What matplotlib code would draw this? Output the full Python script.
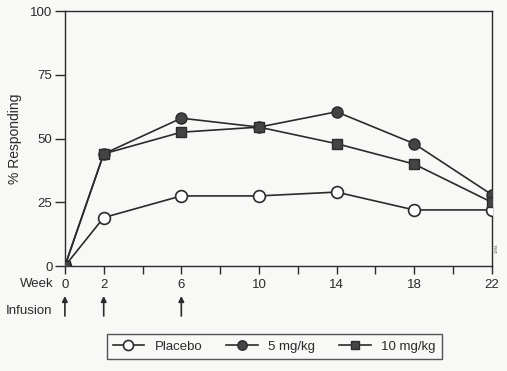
import matplotlib
matplotlib.use("Agg")
import matplotlib.pyplot as plt
from matplotlib.transforms import blended_transform_factory

plt.rcParams['font.family'] = ['Liberation Sans', 'DejaVu Sans']

weeks = [0, 2, 6, 10, 14, 18, 22]
placebo = [0, 19, 27.5, 27.5, 29, 22, 22]
mg5 = [0, 44, 58, 54.5, 60.5, 48, 28]
mg10 = [0, 44, 52.5, 54.5, 48, 40, 25]
tick_weeks = [0, 2, 4, 6, 8, 10, 12, 14, 16, 18, 20, 22]
tick_labels = ['0', '2', '', '6', '', '10', '', '14', '', '18', '', '22']
y_ticks = [0, 25, 50, 75, 100]
infusion_weeks = [0, 2, 6]

ink = '#2b2b2b'
bg = '#f8f8f6'

fig = plt.figure(figsize=(5.07, 3.71), dpi=100, facecolor=bg)
ax = fig.add_axes([0.128, 0.283, 0.842, 0.687], facecolor=bg)

ax.plot(weeks, placebo, color=ink, lw=1.2, marker='o', ms=8.5,
        mfc='white', mec=ink, mew=1.2, label='Placebo', zorder=3)
ax.plot(weeks, mg5, color=ink, lw=1.2, marker='o', ms=8,
        mfc='#444444', mec=ink, label='5 mg/kg', zorder=4)
ax.plot(weeks, mg10, color=ink, lw=1.2, marker='s', ms=7.5,
        mfc='#444444', mec=ink, label='10 mg/kg', zorder=4)

ax.set_xlim(0, 22)
ax.set_ylim(0, 100)
ax.set_xticks(tick_weeks)
ax.set_xticklabels(tick_labels, fontsize=9.5, color=ink)
ax.set_yticks(y_ticks)
ax.set_yticklabels([str(v) for v in y_ticks], fontsize=9.5, color=ink)
ax.tick_params(axis='y', direction='out', length=7, width=1, color=ink, pad=2)
ax.tick_params(axis='x', direction='out', length=6, width=1, color=ink, pad=3)
for s in ax.spines.values():
    s.set_color(ink)
    s.set_linewidth(1)
ax.set_ylabel('% Responding', fontsize=10, color=ink, labelpad=6)
for lab in ax.get_xticklabels() + ax.get_yticklabels():
    lab.set_clip_on(False)

fig.text(20 / 507, 1 - 284 / 371, 'Week', fontsize=9.5, color=ink,
         va='center', ha='left')
fig.text(6 / 507, 1 - 311 / 371, 'Infusion', fontsize=9.5, color=ink,
         va='center', ha='left')

trans = blended_transform_factory(ax.transData, fig.transFigure)
for w in infusion_weeks:
    ax.annotate('', xy=(w, 1 - 296 / 371), xytext=(w, 1 - 316 / 371),
                xycoords=trans, textcoords=trans,
                arrowprops=dict(arrowstyle='-|>', color=ink, lw=1.2,
                                mutation_scale=8, shrinkA=0, shrinkB=0),
                annotation_clip=False)

fig.text(497 / 507, 1 - 248 / 371, '1994', fontsize=3, rotation=90,
         color='#555555', va='center', ha='center')

leg = fig.legend(loc='center', bbox_to_anchor=(0.541, 0.066), ncol=3,
                 fontsize=9.5, frameon=True, fancybox=False,
                 edgecolor=ink, handlelength=2.4, columnspacing=1.8,
                 handletextpad=0.8, borderpad=0.45, borderaxespad=0,
                 markerscale=0.85)
leg.get_frame().set_facecolor(bg)
leg.get_frame().set_linewidth(1)
for t in leg.get_texts():
    t.set_color(ink)

fig.savefig('out.png', dpi=100, facecolor=bg)
